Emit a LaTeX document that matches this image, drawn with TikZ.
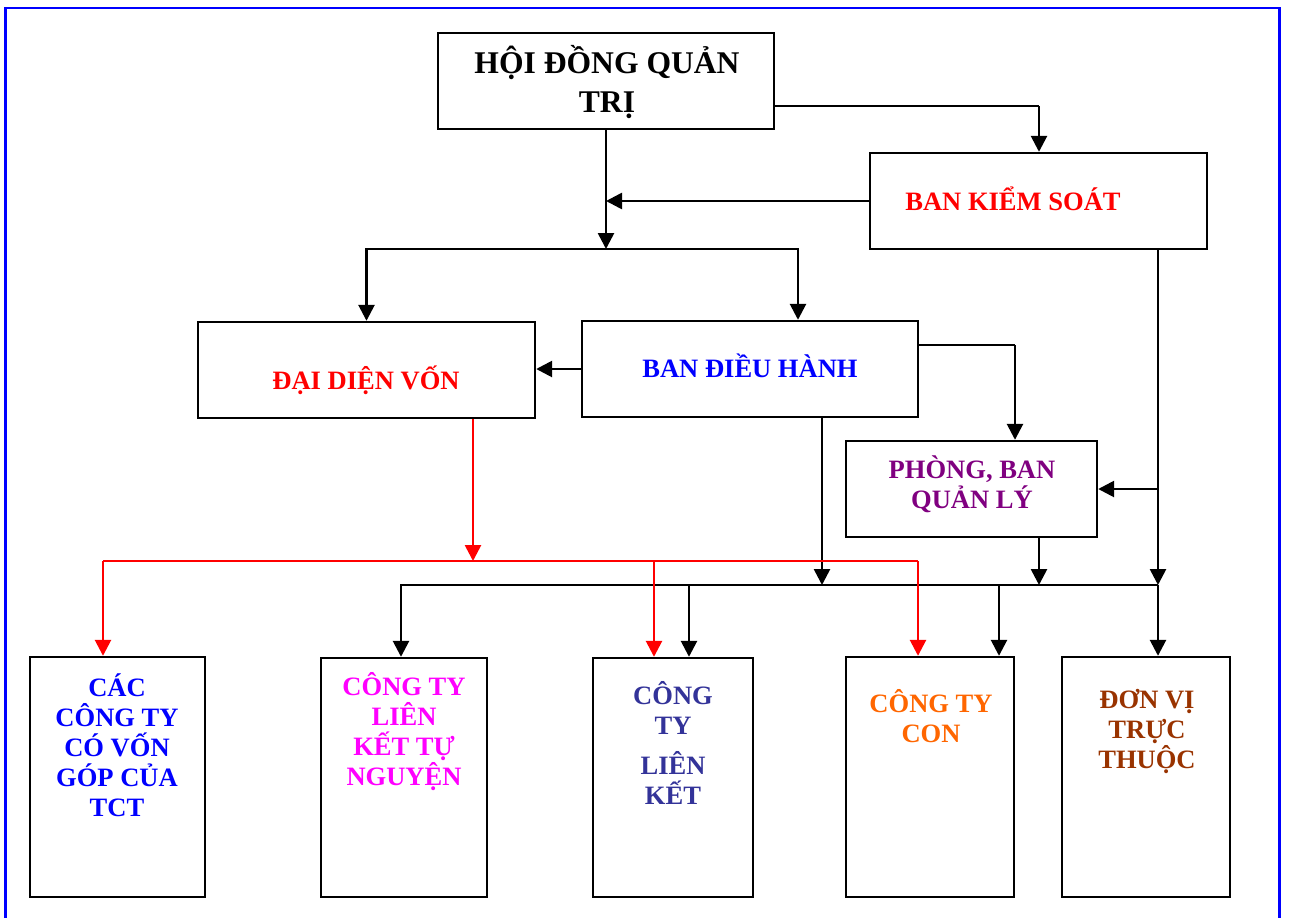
\documentclass[tikz,border=0pt]{standalone}
\usepackage{fontspec}
\setmainfont{Liberation Serif}
\usetikzlibrary{arrows.meta,positioning,calc}
\definecolor{vred}{HTML}{FF0000}
\definecolor{vblue}{HTML}{0000FF}
\definecolor{vpurple}{HTML}{800080}
\definecolor{vmagenta}{HTML}{FF00FF}
\definecolor{vindigo}{HTML}{333399}
\definecolor{vorange}{HTML}{FF6600}
\definecolor{vbrown}{HTML}{993300}
\tikzset{
  orgbox/.style 2 args={draw, line width=1.8pt, inner sep=0pt,
    minimum width=#1*0.75pt, minimum height=#2*0.75pt},
  lbl/.style={font=\fontsize{19.9}{22.5}\selectfont\bfseries, align=center, inner sep=0pt},
  arr/.style={-{Triangle[length=12pt,width=12pt]}, line width=2pt},
  thinline/.style={line width=1.4pt},
  redline/.style={line width=1pt, draw=vred},
  redarr/.style={arr, draw=vred, fill=vred}
}
\begin{document}
\begin{tikzpicture}[x=0.75pt,y=-0.75pt]
  \useasboundingbox (0,0) rectangle (1290,918);
  \draw[vblue, line width=1.8pt] (5.5,918) -- (5.5,8) -- (1279.5,8) -- (1279.5,918);

  \node[orgbox={336}{96}] (hdqt) at (606,81) {};
  \node[lbl, font=\fontsize{23.7}{29}\selectfont\bfseries] (hdqt-t) at (607,82) {HỘI ĐỒNG QUẢN\\TRỊ};
  \node[orgbox={337}{96}] (bks) at (1038.5,201) {};
  \node[lbl, text=vred] (bks-t) at (1013,199) {BAN KIỂM SOÁT};
  \node[orgbox={337}{96}] (dd) at (366.5,370) {};
  \node[lbl, text=vred] (dd-t) at (366,380) {ĐẠI DIỆN VỐN};
  \node[orgbox={336}{96}] (bdh) at (750,369) {};
  \node[lbl, text=vblue] (bdh-t) at (750,366) {BAN ĐIỀU HÀNH};
  \node[orgbox={251}{96}] (pb) at (971.5,489) {};
  \node[lbl, text=vpurple] (pb-t) at (972,484) {PHÒNG, BAN\\QUẢN LÝ};

  \node[orgbox={175}{240}] (cac) at (117.5,777) {};
  \node[lbl, text=vblue] (cac-t) at (117,745) {CÁC\\CÔNG TY\\CÓ VỐN\\GÓP CỦA\\TCT};
  \node[orgbox={166}{239}] (lktn) at (404,777.5) {};
  \node[lbl, text=vmagenta] (lktn-t) at (404,731.5) {CÔNG TY\\LIÊN\\KẾT TỰ\\NGUYỆN};
  \node[orgbox={160}{239}] (lk) at (673,777.5) {};
  \node[lbl, text=vindigo] (lk-t) at (673,743) {CÔNG\\TY\\[7.5pt]LIÊN\\KẾT};
  \node[orgbox={168}{240}] (con) at (930,777) {};
  \node[lbl, text=vorange] (con-t) at (931,716) {CÔNG TY\\CON};
  \node[orgbox={168}{240}] (dvtt) at (1146,777) {};
  \node[lbl, text=vbrown] (dvtt-t) at (1147,731) {ĐƠN VỊ\\TRỰC\\THUỘC};

  \coordinate (j1) at (606,249);
  \coordinate (j2) at (798,249);
  \coordinate (j3) at (1039,106);
  \coordinate (j4) at (1015,345);
  \coordinate (k1) at (1158,489);
  \coordinate (k2) at (1158,585);
  \coordinate (b1) at (401,585);
  \coordinate (b2) at (689,585);
  \coordinate (b3) at (822,585);
  \coordinate (b4) at (999,585);
  \coordinate (b5) at (1039,585);
  \coordinate (r0) at (473,513);
  \coordinate (r1) at (473,561);
  \coordinate (r2) at (103,561);
  \coordinate (r3) at (654,561);
  \coordinate (r4) at (918,561);

  \draw[thinline] (hdqt.east |- j3) -- (j3);
  \draw[arr] (j3) -- (j3 |- bks.north);
  \draw[arr] (hdqt.south) -- (j1);
  \draw[arr] (bks.west) -- (bks.west -| j1);
  \draw[arr] (j1) -| (dd.north);
  \draw[arr] (j1) -- (j2) -- (j2 |- bdh.north);
  \draw[arr] (bdh.west) -- (bdh.west -| dd.east);
  \draw[thinline] (bdh.east |- j4) -- (j4);
  \draw[arr] (j4) -- (j4 |- pb.north);
  \draw[arr] (bks.south -| k2) -- (k2);
  \draw[arr] (k1) -- (k1 -| pb.east);
  \draw[arr] (bdh.south -| b3) -- (b3);
  \draw[arr] (pb.south -| b5) -- (b5);
  \draw[arr] (k2) -- (b1) -- (b1 |- lktn.north);
  \draw[arr] (b2) -- (b2 |- lk.north);
  \draw[arr] (b4) -- (b4 |- con.north);
  \draw[arr] (k2) -- (k2 |- dvtt.north);

  \draw[redline] (dd.south -| r0) -- (r0);
  \draw[redarr] (r0) -- (r1);
  \draw[redline] (r2) -- (r4);
  \draw[redarr] (r2) -- (r2 |- cac.north);
  \draw[redarr] (r3) -- (r3 |- lk.north);
  \draw[redarr] (r4) -- (r4 |- con.north);
\end{tikzpicture}
\end{document}
